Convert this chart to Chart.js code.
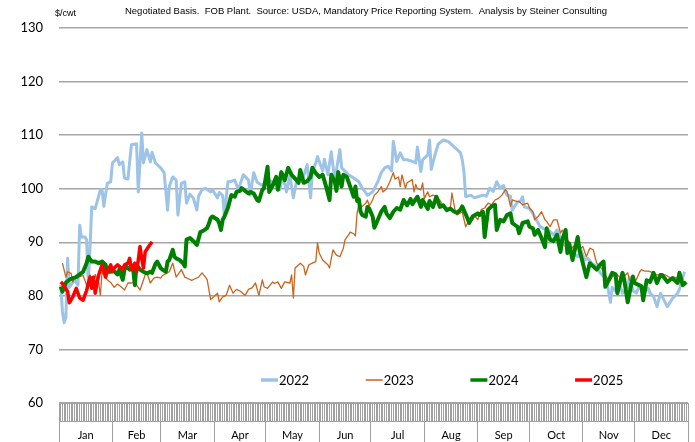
<!DOCTYPE html>
<html>
<head>
<meta charset="utf-8">
<script src="https://cdn.jsdelivr.net/npm/chart.js@4.4.1/dist/chart.umd.min.js"></script>
<style>
  body { margin: 0; background: #fff; }
  #wrap { width: 695px; height: 442px; }
</style>
</head>
<body>
<div id="wrap"><canvas id="chart" width="695" height="442"></canvas></div>
<script>
const titleText = 'Negotiated Basis.  FOB Plant.  Source: USDA, Mandatory Price Reporting System.  Analysis by Steiner Consulting';
const unitLabel = '$/cwt';

const months = ['Jan', 'Feb', 'Mar', 'Apr', 'May', 'Jun', 'Jul', 'Aug', 'Sep', 'Oct', 'Nov', 'Dec'];
const monthStarts = [0, 31, 59, 90, 120, 151, 181, 212, 243, 273, 304, 334, 365];

const seriesNames = ['2022', '2023', '2024', '2025'];
const seriesColors = ['#9dc3e6', '#c8641e', '#008000', '#ff0000'];

// [day of year, $/cwt]
const y2022 = [[1,82],[2,77],[3,75],[4,76],[5,87],[6,81.6],[9,83],[11,82],[12,93.2],[13,91],[15,91],[16,90.5],[17,82.4],[18,89],[19,96.6],[21,96.3],[24,99.8],[25,99.8],[26,96.7],[28,101],[30,101.3],[31,104.8],[34,105.8],[35,104.5],[37,105],[38,102],[40,101.8],[42,108.2],[45,108.4],[46,99.4],[48,110.4],[49,104.8],[51,107.3],[53,105],[54,106.8],[56,104.8],[59,103.9],[61,103],[63,96],[64,100.4],[66,102.2],[68,101.6],[69,95.1],[71,101],[73,101.3],[74,97.3],[76,99],[78,98.2],[80,96],[81,98.6],[83,99.8],[85,100.1],[88,99.4],[89,99.8],[92,98.3],[93,99.3],[95,98.7],[96,94.8],[98,101.3],[99,101.3],[102,101.6],[104,99.8],[107,102.6],[110,101.6],[111,98.8],[113,103],[115,101.2],[118,100.6],[121,102],[124,101.1],[126,101.6],[128,99.8],[130,102.3],[132,99.4],[134,102.4],[136,98.3],[138,101.6],[141,101.3],[144,104.5],[146,98.3],[147,103],[149,104.8],[150,106],[153,103.3],[154,105.5],[156,102.6],[158,106.9],[160,101.6],[161,103.5],[163,107.3],[164,103.9],[166,103.3],[168,102.6],[171,102],[174,101.3],[176,100.1],[179,98.8],[182,99.4],[185,101.3],[187,103],[189,103.9],[191,104.2],[193,103.3],[194,108.8],[196,105.1],[198,106.7],[200,105.4],[202,105.4],[205,105.1],[207,104.8],[208,107.8],[210,103.2],[211,105.4],[214,106.3],[215,109.1],[216,103.6],[218,106.1],[220,108.3],[223,109.1],[226,108.8],[231,107.3],[233,106.7],[234,105.4],[235,103.1],[236,98.5],[239,98.8],[241,98.3],[244,98.6],[246,98.8],[248,98.6],[250,100.1],[252,99.5],[254,101.3],[256,100.1],[258,100.6],[259,99.4],[260,98.8],[262,98.6],[263,96],[266,97.5],[268,97.8],[269,98.5],[270,96.6],[273,96.3],[275,95.4],[277,94.2],[279,93],[281,92.6],[283,92.3],[285,92],[287,91.4],[289,92.3],[291,90.8],[292,89.8],[295,89.1],[296,88.5],[299,87.9],[301,87.3],[303,88.5],[305,86.7],[307,87],[309,86.1],[312,85.5],[314,84.3],[316,83.7],[318,82.4],[320,78.8],[321,81.6],[324,80.5],[325,82.4],[327,80.5],[330,81.6],[331,83.5],[333,81],[335,80.5],[337,82],[339,80.5],[342,81.4],[343,80.5],[345,79.9],[347,78],[349,80.5],[350,79.9],[353,78],[356,79.5],[359,80.5],[360,81.2],[362,83.5],[363,84.5]];

const y2023 = [[2,86.1],[4,83.5],[5,84.5],[7,84.2],[8,82.6],[10,83.9],[12,83.6],[14,83.8],[16,82],[18,83.9],[20,82.4],[21,84],[23,82.4],[24,80.1],[25,84.5],[27,83.5],[28,83],[30,82.5],[32,81.6],[34,82.2],[37,81.4],[38,81.1],[40,82.4],[42,82.4],[44,82.6],[45,82],[47,81.1],[50,83.9],[51,84.3],[53,82.4],[55,83.3],[57,83.5],[59,83.3],[60,83.8],[63,84.3],[64,84.5],[66,86.1],[68,83.5],[71,84.9],[73,83.5],[75,83.2],[77,82.9],[79,83.2],[81,83.5],[83,84.3],[85,83.5],[86,83],[88,79.3],[89,79.6],[92,80.5],[93,78.9],[95,79.8],[97,80.1],[99,82],[101,80.5],[103,81.2],[105,80.9],[108,80.1],[110,81.2],[112,81.5],[114,82.4],[116,80.1],[118,83],[119,81.7],[121,81.4],[124,82.6],[125,82.3],[127,82.6],[129,81.4],[131,82.6],[134,82.4],[135,83.9],[136,79.6],[137,85.2],[140,86.1],[142,85.5],[143,83.9],[145,85.8],[147,86.1],[149,86.4],[150,89.9],[151,88],[153,86.7],[156,85.8],[157,85.2],[158,87],[159,88.6],[161,87.6],[163,87.3],[165,88.9],[166,90.5],[168,91.4],[169,91.9],[171,91.6],[172,91.2],[173,95.5],[174,97],[176,96.7],[178,97.3],[179,97.9],[180,96.8],[182,97.9],[183,98.8],[185,99.4],[187,100.4],[188,99.4],[190,100],[192,101.3],[194,103],[195,101.8],[197,102.2],[198,100.4],[199,102.6],[201,100.1],[202,101.1],[205,101.7],[206,99.4],[207,100.8],[208,100],[210,99.8],[211,101.1],[212,98.2],[214,99.4],[215,98.5],[217,98.8],[219,98.5],[221,97.9],[223,96.7],[225,96.4],[227,96.1],[228,99.2],[230,95.7],[231,95.1],[234,95.7],[236,92.9],[237,93.5],[240,94.1],[241,95.1],[243,94.2],[245,96.1],[247,96.4],[249,97.3],[251,97],[253,97.9],[255,98.2],[257,98.8],[259,99.8],[260,99.5],[262,96.7],[263,97.9],[266,97.6],[267,97.6],[269,97],[272,97.3],[273,96.4],[275,95.7],[276,94.2],[278,94.8],[280,95.7],[282,94.2],[283,93.9],[285,92.9],[287,94.2],[289,94.2],[291,91.7],[292,92.3],[295,90.5],[296,89.9],[298,88.9],[301,90.5],[302,88.6],[304,89.2],[306,87.3],[308,88.9],[310,88.6],[312,86.1],[314,85.5],[316,84.5],[318,83.3],[320,83],[321,83.6],[324,83.9],[325,83.6],[327,83.3],[330,84.3],[331,83],[333,82.4],[335,83],[337,84.5],[338,84.9],[340,84.6],[342,84.6],[345,84.3],[347,83.9],[349,83.9],[352,83.9],[355,83.3],[356,83.6],[359,83.3],[360,83],[362,82.4]];

const y2024 = [[1,81.7],[2,80.8],[4,82.5],[6,83],[8,83.3],[10,83.5],[12,84],[14,84.5],[16,86.1],[17,87.3],[19,86.4],[21,86.4],[23,86.1],[25,86.4],[27,85.8],[28,84.5],[30,84.5],[31,84.9],[34,84],[35,84.9],[37,83],[38,84.9],[39,85.5],[41,84.9],[43,85.2],[44,82],[45,85.8],[47,84.9],[49,84.5],[51,84.2],[53,84.5],[54,84.3],[56,86],[57,86.4],[59,85.2],[60,84.9],[62,84.5],[63,86.4],[64,86.7],[66,88.6],[67,87.3],[68,87],[70,86.7],[72,86.1],[73,85.5],[74,90.5],[76,90.8],[78,90.2],[80,89.5],[82,91.9],[84,92.2],[86,92.7],[87,93.5],[88,94.5],[89,94.8],[92,94.2],[93,93.5],[94,92.3],[95,94.2],[96,94.8],[98,96.4],[99,97.6],[100,98.8],[102,98.5],[103,99.4],[105,99.6],[106,100.1],[108,99.6],[110,99.1],[111,99.4],[113,99.1],[115,97.9],[116,97.7],[118,99.8],[119,100.1],[121,104.1],[122,99.4],[124,100.6],[126,102.2],[127,99.8],[129,103.1],[131,101.6],[133,103.9],[135,102.6],[137,101.9],[139,101.1],[140,103.5],[142,101.1],[144,101.4],[146,102.2],[147,103.9],[149,102.9],[151,102.2],[153,102.6],[155,100.4],[157,97.9],[158,102.6],[160,101.4],[161,99.6],[162,103.1],[164,100.4],[165,102.6],[167,102.2],[169,100.4],[171,98.5],[172,100.4],[173,97.7],[174,98],[175,95.7],[176,95.1],[178,94.8],[179,96.6],[180,96.3],[182,94.8],[183,92.7],[185,94.2],[187,95.7],[189,96.6],[190,95.4],[192,94.5],[194,95.7],[196,96.4],[198,96.1],[200,97.9],[202,96.9],[204,98.1],[205,97.1],[208,98.5],[210,96.6],[211,97.9],[214,96.2],[215,97.7],[217,96.6],[219,98.5],[221,96.6],[223,96.9],[225,96],[227,96.3],[229,95.8],[231,95.5],[233,96.1],[234,96.7],[237,94.5],[238,93.6],[240,94.8],[243,95.4],[244,95.1],[246,95.7],[247,91],[249,96.1],[251,96.7],[253,97],[254,92.3],[256,94.2],[258,93.9],[260,95.1],[262,95.4],[263,93.6],[266,92.9],[267,91.7],[269,93.6],[272,93.9],[273,92.9],[275,92.6],[276,91.4],[278,92.3],[280,90.8],[282,89.1],[283,92.6],[285,90.5],[287,90.2],[289,91.4],[291,88.2],[292,90.5],[294,92.3],[295,88],[296,89.8],[298,86.7],[301,91],[302,88.6],[304,86.1],[306,83.5],[308,86.1],[310,85.5],[312,84.9],[314,85.8],[316,86.4],[317,81.7],[319,82.9],[321,84.3],[323,84],[324,80.5],[327,84.3],[328,83],[330,78.8],[333,83.6],[334,82.4],[336,82.1],[338,81.8],[339,79.2],[341,82.9],[343,82.6],[345,84.3],[347,82.4],[349,83.9],[350,83.9],[353,82.6],[355,83.1],[356,83.3],[359,82.4],[360,84.3],[362,82],[364,82.6]];

const y2025 = [[1,82.6],[2,82.3],[5,80.8],[6,78.7],[8,79.8],[10,81.4],[12,79.6],[14,79.2],[16,81],[18,83.5],[19,81.4],[20,83.5],[21,80.5],[23,83.9],[25,85.8],[27,83.5],[28,84.5],[30,85.8],[31,84.5],[32,85.2],[34,85.8],[37,84.9],[38,85.8],[40,86.1],[41,87],[42,84.9],[44,86.1],[45,84.5],[46,86.7],[47,89.2],[48,87],[49,85.2],[50,88.2],[52,89.2],[54,90.1]];

const seriesData = [y2022, y2023, y2024, y2025];
const lineWidths = [3, 1.3, 4, 3.5];

// month label sits in the middle of each month band
const monthMids = months.map((m, i) => (monthStarts[i] + monthStarts[i + 1]) / 2);

const textPlugin = {
  id: 'textPlugin',
  afterDraw(chart) {
    const ctx = chart.ctx;
    const area = chart.chartArea;
    ctx.save();
    ctx.fillStyle = '#000';
    ctx.textBaseline = 'middle';
    ctx.font = '9px "Liberation Sans", Arial, sans-serif';
    ctx.textAlign = 'left';
    ctx.fillText(unitLabel, 55, 14);
    ctx.font = '9.5px "Liberation Sans", Arial, sans-serif';
    ctx.textAlign = 'center';
    ctx.fillText(titleText, 366, 11);

    // legend inside the plot, near the bottom
    ctx.font = '13px Lato, sans-serif';
    ctx.textAlign = 'left';
    const ly = area.bottom - 23;
    chart.data.datasets.forEach((ds, i) => {
      const lx = area.left + 202 + i * 104.7;
      ctx.strokeStyle = ds.borderColor;
      ctx.lineWidth = i === 1 ? 1.5 : 3.5;
      ctx.beginPath();
      ctx.moveTo(lx, ly);
      ctx.lineTo(lx + 17, ly);
      ctx.stroke();
      ctx.fillText(ds.label, lx + 18, ly + 1);
    });
    ctx.restore();
  }
};

new Chart(document.getElementById('chart'), {
  type: 'line',
  data: {
    datasets: seriesNames.map((name, i) => ({
      label: name,
      data: seriesData[i].map(([d, v]) => ({ x: d, y: v })),
      borderColor: seriesColors[i],
      backgroundColor: seriesColors[i],
      borderWidth: lineWidths[i],
      order: seriesNames.length - i,
      xAxisID: 'x',
      yAxisID: 'y'
    }))
  },
  options: {
    responsive: false,
    animation: false,
    layout: { padding: { top: 28, right: 7, left: 0, bottom: 0 } },
    elements: {
      point: { radius: 0 },
      line: { tension: 0, borderJoinStyle: 'round' }
    },
    plugins: {
      legend: { display: false },
      tooltip: { enabled: false }
    },
    scales: {
      x: {
        type: 'linear',
        position: 'bottom',
        min: 0,
        max: 365,
        afterBuildTicks: (s) => {
          s.ticks = Array.from({ length: 366 }, (_, i) => ({ value: i }));
        },
        ticks: { display: false },
        grid: { drawOnChartArea: false, tickLength: 18, color: '#a0a0a0', lineWidth: 1 },
        border: { color: '#a0a0a0' },
        afterFit: (s) => { s.height = 18; }
      },
      months: {
        type: 'linear',
        position: 'bottom',
        min: 0,
        max: 365,
        afterBuildTicks: (s) => {
          s.ticks = monthStarts.concat(monthMids).sort((a, b) => a - b).map((v) => ({ value: v }));
        },
        ticks: {
          autoSkip: false,
          maxRotation: 0,
          padding: -13,
          color: '#000',
          font: { family: 'Lato', size: 11 },
          callback: (v) => {
            const i = monthMids.indexOf(v);
            return i >= 0 ? months[i] : '';
          }
        },
        grid: {
          drawOnChartArea: false,
          tickLength: 21,
          lineWidth: 1,
          color: (c) => (c.tick && monthStarts.includes(c.tick.value) ? '#a0a0a0' : 'rgba(0,0,0,0)')
        },
        border: { color: '#a0a0a0' },
        afterFit: (s) => { s.height = 21; }
      },
      y: {
        min: 60,
        max: 130,
        ticks: {
          stepSize: 10,
          padding: 16,
          color: '#000',
          font: { family: 'Lato', size: 13 }
        },
        grid: { color: '#a6a6a6', lineWidth: 1.5, drawTicks: false },
        border: { display: false },
        afterFit: (s) => { s.width = 59; }
      }
    }
  },
  plugins: [textPlugin]
});
</script>
</body>
</html>
